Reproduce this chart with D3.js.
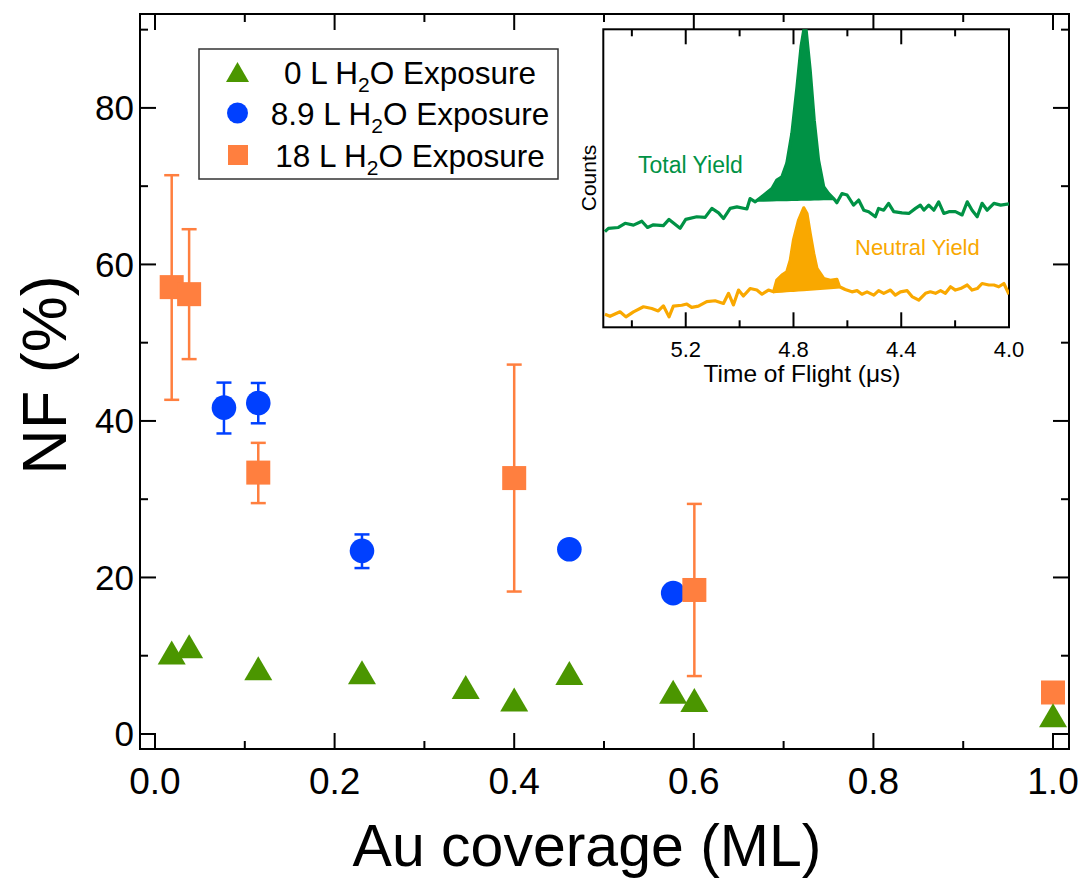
<!DOCTYPE html>
<html>
<head>
<meta charset="utf-8">
<script src="https://cdn.jsdelivr.net/npm/d3@7"></script>
<style>
  body { margin: 0; background: #fff; }
  svg text { font-family: "Liberation Sans", Arial, Helvetica, sans-serif; }
</style>
</head>
<body>
<svg id="chart" width="1084" height="882"></svg>
<script>
// ---------------- Data ----------------
const seriesNames = ["0 L H2O Exposure", "8.9 L H2O Exposure", "18 L H2O Exposure"];

// 0 L H2O exposure (green triangles)
const x0L = [0.0186, 0.038, 0.115, 0.2305, 0.346, 0.400, 0.4614, 0.577, 0.6006, 1.0];
const y0L = [10.4, 11.2, 8.4, 7.9, 6.0, 4.4, 7.8, 5.4, 4.35, 2.4];

// 8.9 L H2O exposure (blue circles) with error bars
const x89L = [0.0768, 0.115, 0.2305, 0.4614, 0.577];
const y89L = [41.7, 42.3, 23.4, 23.6, 18.0];
const e89Lhi = [44.9, 44.85, 25.5, 23.6, 18.0];
const e89Llo = [38.4, 39.7, 21.2, 23.6, 18.0];

// 18 L H2O exposure (orange squares) with error bars
const x18L = [0.0186, 0.038, 0.115, 0.400, 0.6006, 1.0];
const y18L = [57.1, 56.2, 33.4, 32.7, 18.4, 5.3];
const e18Lhi = [71.4, 64.5, 37.2, 47.2, 29.4, 5.3];
const e18Llo = [42.7, 47.9, 29.5, 18.2, 7.4, 5.3];

const xTicks = [0.0, 0.2, 0.4, 0.6, 0.8, 1.0];
const xMinor = [0.1, 0.3, 0.5, 0.7, 0.9];
const yTicks = [0, 20, 40, 60, 80];
const yMinor = [10, 30, 50, 70, 90];

// Inset: time-of-flight spectra (arbitrary counts)
const totalT = [5.500,5.487,5.450,5.425,5.394,5.363,5.342,5.320,5.283,5.262,5.221,5.200,5.159,5.128,5.103,5.078,5.060,5.035,5.010,4.973,4.961,4.942,4.911,4.880,4.862,4.843,4.825,4.806,4.787,4.772,4.762,4.753,4.738,4.723,4.707,4.688,4.670,4.651,4.639,4.620,4.601,4.577,4.558,4.539,4.521,4.496,4.484,4.465,4.447,4.428,4.397,4.372,4.347,4.329,4.316,4.298,4.279,4.261,4.242,4.223,4.199,4.174,4.155,4.137,4.118,4.100,4.081,4.056,4.031,4.000];
const totalC = [32.1,33.2,33.5,34.9,34.3,35.6,33.5,34.4,34.1,36.2,33.2,36.2,37.1,36.9,39.9,38.4,36.5,39.9,40.4,39.7,43.2,42.1,44.3,46.6,49.4,50.5,55.0,65.1,80.7,94.2,99.7,99.7,86.3,69.5,56.1,47.2,44.9,43.2,41.8,44.9,44.4,41.0,42.7,39.3,38.8,37.1,39.9,39.3,41.6,38.8,38.4,38.2,39.9,41.0,39.3,41.0,39.3,42.1,38.2,38.8,38.8,37.7,42.1,39.3,37.1,41.6,39.3,41.6,41.0,41.4];
const totalPeakRange = [4.942, 4.639];
const totalPeakBase = [42.1, 42.7];

const neutralT = [5.500,5.481,5.444,5.422,5.394,5.357,5.326,5.302,5.283,5.262,5.246,5.215,5.196,5.178,5.153,5.122,5.091,5.060,5.041,5.023,5.004,4.986,4.961,4.936,4.917,4.893,4.874,4.862,4.843,4.825,4.812,4.800,4.781,4.762,4.750,4.738,4.725,4.713,4.688,4.663,4.639,4.629,4.608,4.583,4.564,4.546,4.527,4.502,4.484,4.465,4.440,4.422,4.403,4.378,4.360,4.335,4.310,4.292,4.273,4.254,4.236,4.217,4.199,4.180,4.155,4.137,4.118,4.100,4.075,4.056,4.038,4.019,4.000];
const neutralC = [4.4,3.7,5.2,3.5,5.2,6.9,6.3,5.5,7.2,3.5,7.1,7.4,7.8,6.7,7.1,8.6,8.9,8.0,11.4,7.5,12.5,10.5,13.0,12.5,11.1,12.5,11.9,15.8,17.5,18.6,22.5,29.3,36.0,40.1,38.2,31.5,24.8,19.8,16.4,15.8,16.1,13.6,12.7,11.9,12.3,11.1,11.9,10.8,12.3,11.4,12.5,10.8,11.9,12.3,10.3,9.1,11.4,11.9,11.4,12.3,11.4,13.6,12.5,13.0,14.2,12.5,13.0,14.7,14.2,14.2,13.6,14.7,11.1];
const neutralPeakRange = [4.874, 4.629];
const neutralPeakBase = [11.4, 13.0];

const insetTicks = [5.2, 4.8, 4.4, 4.0];
const insetMinor = [5.4, 5.0, 4.6, 4.2];

// ---------------- Colors ----------------
const cGreen = "#4b9600";
const cBlue = "#0040ff";
const cOrange = "#ff7f3f";
const cInsetGreen = "#009245";
const cInsetOrange = "#f9a800";

// ---------------- Main plot ----------------
const svg = d3.select("#chart");
const L = 140, R = 1069, T = 14, B = 749;
const x = d3.scaleLinear().domain([-0.0167, 1.0178]).range([L, R]);
const y = d3.scaleLinear().domain([-1.92, 92.0]).range([B, T]);

const axisG = svg.append("g");
const major = 16, minor = 8;
axisG.append("rect").attr("x", L).attr("y", T).attr("width", R - L).attr("height", B - T)
  .attr("fill", "none").attr("stroke", "#000").attr("stroke-width", 2);

function tickLines(g, vals, len, isX) {
  vals.forEach(v => {
    if (isX) {
      const px = x(v);
      g.append("line").attr("x1", px).attr("x2", px).attr("y1", B).attr("y2", B - len).attr("stroke", "#000").attr("stroke-width", 2);
      g.append("line").attr("x1", px).attr("x2", px).attr("y1", T).attr("y2", T + len).attr("stroke", "#000").attr("stroke-width", 2);
    } else {
      const py = y(v);
      g.append("line").attr("y1", py).attr("y2", py).attr("x1", L).attr("x2", L + len).attr("stroke", "#000").attr("stroke-width", 2);
      g.append("line").attr("y1", py).attr("y2", py).attr("x1", R).attr("x2", R - len).attr("stroke", "#000").attr("stroke-width", 2);
    }
  });
}
tickLines(axisG, xTicks, major, true);
tickLines(axisG, xMinor, minor, true);
tickLines(axisG, yTicks, major, false);
tickLines(axisG, yMinor, minor, false);

// tick labels
axisG.selectAll("text.xt").data(xTicks).enter().append("text")
  .attr("x", d => x(d)).attr("y", 794).attr("text-anchor", "middle")
  .attr("font-size", 37).text(d => d.toFixed(1));
axisG.selectAll("text.yt").data(yTicks).enter().append("text")
  .attr("x", 134).attr("y", d => y(d) + 12.5).attr("text-anchor", "end")
  .attr("font-size", 35).text(d => d);

// axis titles
svg.append("text").attr("x", 587).attr("y", 866).attr("text-anchor", "middle")
  .attr("font-size", 59).text("Au coverage (ML)");
svg.append("text").attr("transform", "translate(66,375) rotate(-90)")
  .attr("text-anchor", "middle").attr("font-size", 63).text("NF (%)");

const plot = svg.append("g");

function errBars(xs, hi, lo, color) {
  xs.forEach((xv, i) => {
    if (hi[i] === lo[i]) return;
    const px = x(xv);
    plot.append("line").attr("x1", px).attr("x2", px).attr("y1", y(hi[i])).attr("y2", y(lo[i]))
      .attr("stroke", color).attr("stroke-width", 2.5);
    [hi[i], lo[i]].forEach(v => {
      plot.append("line").attr("x1", px - 7.5).attr("x2", px + 7.5).attr("y1", y(v)).attr("y2", y(v))
        .attr("stroke", color).attr("stroke-width", 2.5);
    });
  });
}

errBars(x89L, e89Lhi, e89Llo, cBlue);
plot.selectAll("circle.b").data(x89L).enter().append("circle")
  .attr("cx", d => x(d)).attr("cy", (d, i) => y(y89L[i])).attr("r", 12.3).attr("fill", cBlue);

errBars(x18L, e18Lhi, e18Llo, cOrange);
const sq = 24;
plot.selectAll("rect.o").data(x18L).enter().append("rect")
  .attr("x", d => x(d) - sq / 2).attr("y", (d, i) => y(y18L[i]) - sq / 2)
  .attr("width", sq).attr("height", sq).attr("fill", cOrange);

function triPath(cx, cy, w, h) {
  return `M${cx},${cy - h / 2}L${cx + w / 2},${cy + h / 2}L${cx - w / 2},${cy + h / 2}Z`;
}
plot.selectAll("path.g").data(x0L).enter().append("path")
  .attr("d", (d, i) => triPath(x(d), y(y0L[i]), 28, 24)).attr("fill", cGreen);

// ---------------- Legend ----------------
const lg = svg.append("g");
lg.append("rect").attr("x", 199).attr("y", 49).attr("width", 359).attr("height", 130)
  .attr("fill", "#fff").attr("stroke", "#333").attr("stroke-width", 1.5);
const rowY = [72, 113, 155];
lg.append("path").attr("d", triPath(237.5, rowY[0], 23, 20)).attr("fill", cGreen);
lg.append("circle").attr("cx", 237.5).attr("cy", rowY[1]).attr("r", 10.5).attr("fill", cBlue);
lg.append("rect").attr("x", 228).attr("y", rowY[2] - 10).attr("width", 20).attr("height", 20).attr("fill", cOrange);
const legendLabels = [["0 L H", "2", "O Exposure"], ["8.9 L H", "2", "O Exposure"], ["18 L H", "2", "O Exposure"]];
legendLabels.forEach((parts, i) => {
  const t = lg.append("text").attr("x", 410).attr("y", rowY[i] + 11.5).attr("text-anchor", "middle").attr("font-size", 31.5);
  t.append("tspan").text(parts[0]);
  t.append("tspan").attr("font-size", 21).attr("dy", 8).text(parts[1]);
  t.append("tspan").attr("dy", -8).text(parts[2]);
});

// ---------------- Inset ----------------
const iL = 603.3, iR = 1009, iT = 29.3, iB = 327.3;
const ix = d3.scaleLinear().domain([5.506, 4.0]).range([iL, iR]);
const iy = d3.scaleLinear().domain([0, 100]).range([iB, iT]);
const inset = svg.append("g");
inset.append("rect").attr("x", iL).attr("y", iT).attr("width", iR - iL).attr("height", iB - iT)
  .attr("fill", "#fff").attr("stroke", "#000").attr("stroke-width", 2);

function insetTicksDraw(vals, len) {
  vals.forEach(v => {
    const px = ix(v);
    inset.append("line").attr("x1", px).attr("x2", px).attr("y1", iB).attr("y2", iB - len).attr("stroke", "#000").attr("stroke-width", 2);
    inset.append("line").attr("x1", px).attr("x2", px).attr("y1", iT).attr("y2", iT + len).attr("stroke", "#000").attr("stroke-width", 2);
  });
}
insetTicksDraw(insetTicks, 15);
insetTicksDraw(insetMinor, 7);
inset.selectAll("text.it").data(insetTicks).enter().append("text")
  .attr("x", d => ix(d)).attr("y", 357).attr("text-anchor", "middle").attr("font-size", 22)
  .text(d => d.toFixed(1));
inset.append("text").attr("x", 802).attr("y", 382).attr("text-anchor", "middle").attr("font-size", 24.5)
  .text("Time of Flight (\u03bcs)");
inset.append("text").attr("transform", "translate(596,178) rotate(-90)").attr("text-anchor", "middle")
  .attr("font-size", 21).text("Counts");

const clip = svg.append("clipPath").attr("id", "insetClip");
clip.append("rect").attr("x", iL).attr("y", iT).attr("width", iR - iL).attr("height", iB - iT);
const traces = inset.append("g").attr("clip-path", "url(#insetClip)");

function drawTrace(ts, cs, range, base, color) {
  const pts = ts.map((t, i) => [t, cs[i]]);
  const baseScale = d3.scaleLinear().domain(range).range(base);
  const peakPts = pts.filter(p => p[0] <= range[0] && p[0] >= range[1]);
  const area = d3.area().x(p => ix(p[0])).y0(p => iy(baseScale(p[0]))).y1(p => iy(Math.max(p[1], baseScale(p[0]))));
  traces.append("path").attr("d", area(peakPts)).attr("fill", color);
  const line = d3.line().x(p => ix(p[0])).y(p => iy(p[1]));
  traces.append("path").attr("d", line(pts)).attr("fill", "none").attr("stroke", color)
    .attr("stroke-width", 3.2).attr("stroke-linejoin", "round");
}
drawTrace(totalT, totalC, totalPeakRange, totalPeakBase, cInsetGreen);
drawTrace(neutralT, neutralC, neutralPeakRange, neutralPeakBase, cInsetOrange);

inset.append("text").attr("x", 638).attr("y", 173).attr("font-size", 23).attr("fill", cInsetGreen).text("Total Yield");
inset.append("text").attr("x", 855).attr("y", 255).attr("font-size", 22).attr("fill", cInsetOrange).text("Neutral Yield");
</script>
</body>
</html>
